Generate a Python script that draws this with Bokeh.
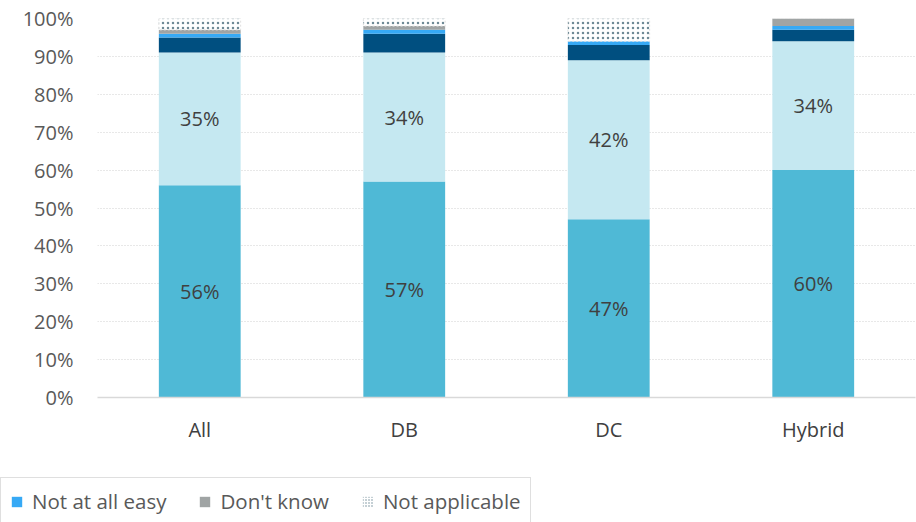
from bokeh.plotting import figure
from bokeh.layouts import column
from bokeh.models import (ColumnDataSource, FactorRange, Range1d, FixedTicker,
                          PrintfTickFormatter, LabelSet, Legend, LegendItem)
from bokeh.core.properties import value
from bokeh.embed import file_html
from bokeh.resources import INLINE

groups = ["All", "DB", "DC", "Hybrid"]
very_easy = [56, 57, 47, 60]
fairly_easy = [35, 34, 42, 34]
not_very_easy = [4, 5, 4, 3]
not_at_all_easy = [1, 1, 1, 1]
dont_know = [1, 1, 0, 2]
not_applicable = [3, 2, 6, 0]

series = ["Very easy", "Fairly easy", "Not very easy", "Not at all easy", "Don't know", "Not applicable"]
colors = ["#4FB9D6", "#C5E8F1", "#004F80", "#36A9F5", "#A0A4A4", "#FFFFFF"]

data = {"group": groups}
for name, vals in zip(series, [very_easy, fairly_easy, not_very_easy, not_at_all_easy, dont_know, not_applicable]):
    data[name] = vals
src = ColumnDataSource(data)

FONT = "Open Sans"
HATCH = dict(hatch_pattern="dot", hatch_color="#6E8A96", hatch_scale=5, hatch_weight=2)

p = figure(width=916, height=470, x_range=FactorRange(*groups, range_padding=0),
           y_range=Range1d(0, 100), output_backend="svg", toolbar_location=None,
           min_border_left=97, min_border_right=1, min_border_top=18, min_border_bottom=73)
p.outline_line_color = None
p.frame_align = False

renderers = p.vbar_stack(series, x="group", width=0.4, source=src, color=colors, line_color=None)
na = renderers[-1]
for k, v in HATCH.items():
    setattr(na.glyph, k, v)
na.glyph.line_color = "#E0E0E0"
na.glyph.line_dash = "2 2"

# data labels for the two largest segments
lab_x, lab_y, lab_t = [], [], []
for g, a, b in zip(groups, very_easy, fairly_easy):
    lab_x += [g, g]
    lab_y += [a / 2, a + b / 2]
    lab_t += [f"{a}%", f"{b}%"]
lab_src = ColumnDataSource(dict(x=lab_x, y=lab_y, t=lab_t))
p.add_layout(LabelSet(x="x", y="y", text="t", source=lab_src, text_align="center",
                      text_baseline="middle", text_font=value(FONT), text_font_size=value("20px"),
                      text_color=value("#404040")))

p.yaxis.ticker = FixedTicker(ticks=list(range(0, 101, 10)))
p.yaxis.formatter = PrintfTickFormatter(format="%d%%")
p.yaxis.axis_line_color = None
p.yaxis.major_tick_line_color = None
p.yaxis.minor_tick_line_color = None
p.yaxis.major_label_standoff = 18
p.yaxis.major_label_text_font = FONT
p.yaxis.major_label_text_font_size = "20px"
p.yaxis.major_label_text_color = "#595959"

p.xaxis.axis_line_color = "#D9D9D9"
p.xaxis.axis_line_width = 1.5
p.xaxis.major_tick_line_color = None
p.xaxis.minor_tick_line_color = None
p.xaxis.major_label_standoff = 12
p.xaxis.major_label_text_font = FONT
p.xaxis.major_label_text_font_size = "20px"
p.xaxis.major_label_text_color = "#404040"

p.xgrid.grid_line_color = None
p.ygrid.grid_line_color = "#D0D0D0"
p.ygrid.grid_line_dash = "1 2"
p.ygrid.grid_line_width = 1

# legend strip: same series drawn out of view so only the legend shows
lg = figure(width=916, height=52, x_range=FactorRange(*groups, range_padding=0),
            y_range=Range1d(1000, 1001), output_backend="svg", toolbar_location=None,
            x_axis_location=None, y_axis_location=None,
            min_border_left=0, min_border_right=0, min_border_top=0, min_border_bottom=0)
lg.frame_align = False
lg.grid.visible = False
lg.outline_line_color = None
items = []
for i in (3, 4, 5):
    r = lg.vbar(x="group", top=series[i], width=0.4, source=src, fill_color=colors[i], line_color=None)
    if i == 5:
        for k, v in HATCH.items():
            setattr(r.glyph, k, v)
        r.glyph.hatch_scale = 3
        r.glyph.hatch_weight = 1.6
    items.append(LegendItem(label=series[i], renderers=[r]))

legend = Legend(items=items, orientation="horizontal", location=(0, -3))
legend.label_text_font = FONT
legend.label_text_font_size = "20.5px"
legend.label_text_color = "#595959"
legend.glyph_width = 13
legend.glyph_height = 13
legend.label_standoff = 9
legend.spacing = 32
legend.padding = 9
legend.margin = 0
legend.border_line_color = "#BFBFBF"
legend.border_line_width = 1.5
legend.background_fill_color = "white"
lg.add_layout(legend, "center")

layout = column(p, lg, spacing=0)
open("out.html", "w").write(file_html(layout, INLINE))
